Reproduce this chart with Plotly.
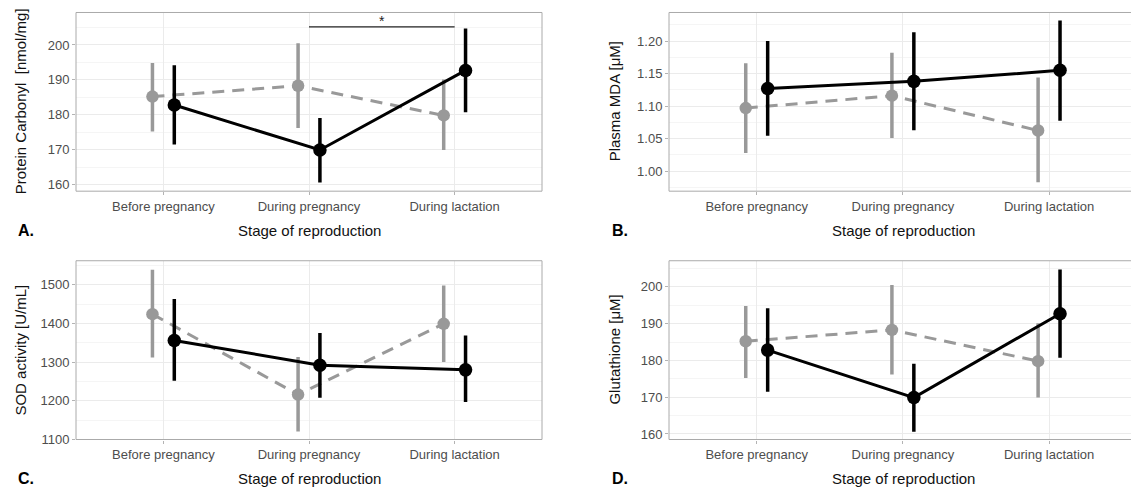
import plotly.graph_objects as go

W, H = 1131, 497

stages = ["Before pregnancy", "During pregnancy", "During lactation"]

# A. Protein carbonyl [nmol/mg]: mean with lower / upper limits
pc_gray = [185.2, 188.3, 179.8]
pc_gray_lo = [175.2, 176.2, 169.9]
pc_gray_hi = [194.8, 200.5, 190.1]
pc_black = [182.8, 169.9, 192.7]
pc_black_lo = [171.5, 160.6, 180.7]
pc_black_hi = [194.2, 179.1, 204.7]

# significance bracket between pregnancy and lactation
sig_stages = [2, 3]
sig_level = 205.2
sig_label = "*"

# B. Plasma MDA [µM]
mda_gray = [1.097, 1.116, 1.0625]
mda_gray_lo = [1.028, 1.051, 0.983]
mda_gray_hi = [1.166, 1.182, 1.144]
mda_black = [1.127, 1.138, 1.155]
mda_black_lo = [1.0545, 1.063, 1.0776]
mda_black_hi = [1.200, 1.2136, 1.2317]

# C. SOD activity [U/mL]
sod_gray = [1424, 1216, 1399]
sod_gray_lo = [1312, 1121, 1300]
sod_gray_hi = [1539, 1313, 1498]
sod_black = [1356, 1292, 1280]
sod_black_lo = [1252, 1208, 1197]
sod_black_hi = [1463, 1375, 1369]

# D. Glutathione [µM]
gsh_gray = [185.2, 188.3, 179.8]
gsh_gray_lo = [175.2, 176.2, 169.9]
gsh_gray_hi = [194.8, 200.5, 190.1]
gsh_black = [182.8, 169.9, 192.7]
gsh_black_lo = [171.5, 160.6, 180.7]
gsh_black_hi = [194.2, 179.1, 204.7]

GRAY = "#999999"
BLACK = "#000000"
FONT = "Liberation Sans, Arial, sans-serif"
DODGE = 0.075


def px(x):
    return x / W


def py(y):
    return 1 - y / H


fig = go.Figure()


def add_group(axis_suffix, mean, lo, hi, color, dash, offset, size):
    xs = [i + 1 + offset for i in range(len(mean))]
    fig.add_trace(go.Scatter(
        x=xs, y=mean,
        mode="lines+markers",
        line=dict(color=color, width=3, dash=dash),
        marker=dict(color=color, size=size, line=dict(width=0)),
        error_y=dict(
            type="data", symmetric=False,
            array=[h - m for h, m in zip(hi, mean)],
            arrayminus=[m - l for m, l in zip(mean, lo)],
            color=color, thickness=3.5, width=0,
        ),
        xaxis="x" + axis_suffix, yaxis="y" + axis_suffix,
        showlegend=False, hoverinfo="skip",
    ))


panels = [
    ("", pc_gray, pc_gray_lo, pc_gray_hi, pc_black, pc_black_lo, pc_black_hi),
    ("2", mda_gray, mda_gray_lo, mda_gray_hi, mda_black, mda_black_lo, mda_black_hi),
    ("3", sod_gray, sod_gray_lo, sod_gray_hi, sod_black, sod_black_lo, sod_black_hi),
    ("4", gsh_gray, gsh_gray_lo, gsh_gray_hi, gsh_black, gsh_black_lo, gsh_black_hi),
]
for suf, g, glo, ghi, b, blo, bhi in panels:
    add_group(suf, g, glo, ghi, GRAY, "12px,8px", -DODGE, 12.5)
    add_group(suf, b, blo, bhi, BLACK, "solid", DODGE, 13.5)

# significance bracket on panel A
fig.add_trace(go.Scatter(
    x=sig_stages, y=[sig_level, sig_level], mode="lines",
    line=dict(color="#222222", width=1.3),
    xaxis="x", yaxis="y", showlegend=False, hoverinfo="skip",
))
fig.add_annotation(
    x=sum(sig_stages) / 2, y=sig_level, xref="x", yref="y",
    text=sig_label, showarrow=False, yanchor="bottom", yshift=-4,
    font=dict(family=FONT, size=14, color="#222222"),
)

TICK_FONT = dict(family=FONT, size=13, color="#4d4d4d")


def xaxis(domain, rng):
    return dict(
        domain=domain, range=rng,
        tickmode="array", tickvals=[1, 2, 3], ticktext=stages,
        showgrid=True, gridcolor="#ebebeb", gridwidth=1,
        zeroline=False, showline=False,
        ticks="outside", ticklen=3, tickwidth=1, tickcolor="#b3b3b3",
        tickfont=TICK_FONT, fixedrange=True,
    )


def yaxis(domain, rng, dtick, minor, fmt=None, anchor="x"):
    d = dict(
        domain=domain, range=rng, anchor=anchor,
        tick0=0, dtick=dtick,
        showgrid=True, gridcolor="#ebebeb", gridwidth=1,
        minor=dict(dtick=minor, tick0=0, showgrid=True,
                   gridcolor="#f5f5f5", gridwidth=1, ticks=""),
        zeroline=False, showline=False,
        ticks="outside", ticklen=3, tickwidth=1, tickcolor="#b3b3b3",
        tickfont=TICK_FONT, fixedrange=True,
    )
    if fmt:
        d["tickformat"] = fmt
    return d


top = [py(194.3), py(12.7)]
bottom = [py(446.7), py(265.0)]
left_x = [px(76), px(542)]
right_x = [px(669), 1.0]
right_rng = [0.4, 3.0 + (W - 1049) / 146.3]

fig.update_layout(
    width=W, height=H,
    margin=dict(l=0, r=0, t=0, b=0),
    paper_bgcolor="white", plot_bgcolor="white",
    showlegend=False,
    font=dict(family=FONT),
    xaxis=dict(xaxis(left_x, [0.4, 3.6]), anchor="y"),
    yaxis=yaxis(top, [158.1, 209.3], 10, 5, anchor="x"),
    xaxis2=dict(xaxis(right_x, right_rng), anchor="y2"),
    yaxis2=yaxis(top, [0.9693, 1.2438], 0.05, 0.025, ".2f", anchor="x2"),
    xaxis3=dict(xaxis(left_x, [0.4, 3.6]), anchor="y3"),
    yaxis3=yaxis(bottom, [1100, 1562], 100, 50, anchor="x3"),
    xaxis4=dict(xaxis(right_x, right_rng), anchor="y4"),
    yaxis4=yaxis(bottom, [158.5, 207.1], 10, 5, anchor="x4"),
)

# panel borders (the right-hand panels run past the page edge)
for suf, x1 in [("", 1), ("2", 1.05), ("3", 1), ("4", 1.05)]:
    xr = "x" + suf if suf else "x"
    yr = "y" + suf if suf else "y"
    fig.add_shape(
        type="rect", xref=xr + " domain", yref=yr + " domain",
        x0=0, x1=x1, y0=0, y1=1,
        line=dict(color="#aaaaaa", width=1), fillcolor="rgba(0,0,0,0)",
        layer="above",
    )

TITLE_FONT = dict(family=FONT, size=15, color="#111111")
LETTER_FONT = dict(family=FONT, size=16, color="#000000")

# axis titles and panel letters
y_titles = [
    ("Protein Carbonyl  [nmol/mg]", 20.5, (12.7 + 194.3) / 2),
    ("Plasma MDA [\u03bcM]", 614.5, (12.7 + 194.3) / 2),
    ("SOD activity [U/mL]", 20.5, (265.0 + 446.7) / 2),
    ("Glutathione [\u03bcM]", 614.5, (265.0 + 446.7) / 2),
]
for text, xc, yc in y_titles:
    fig.add_annotation(
        x=px(xc), y=py(yc), xref="paper", yref="paper", text=text,
        textangle=-90, showarrow=False, xanchor="center", yanchor="middle",
        font=TITLE_FONT,
    )

x_titles = [(309, 234), (903, 234), (309, 486), (903, 486)]
for xc, yc in x_titles:
    fig.add_annotation(
        x=px(xc), y=py(yc), xref="paper", yref="paper",
        text="Stage of reproduction", showarrow=False,
        xanchor="center", yanchor="middle", font=TITLE_FONT,
    )

letters = [("A.", 16, 234), ("B.", 610, 234), ("C.", 16, 486), ("D.", 610, 486)]
for text, xl, yc in letters:
    fig.add_annotation(
        x=px(xl), y=py(yc), xref="paper", yref="paper",
        text="<b>" + text + "</b>", showarrow=False,
        xanchor="left", yanchor="middle", font=LETTER_FONT,
    )

fig.write_html("out.html")
